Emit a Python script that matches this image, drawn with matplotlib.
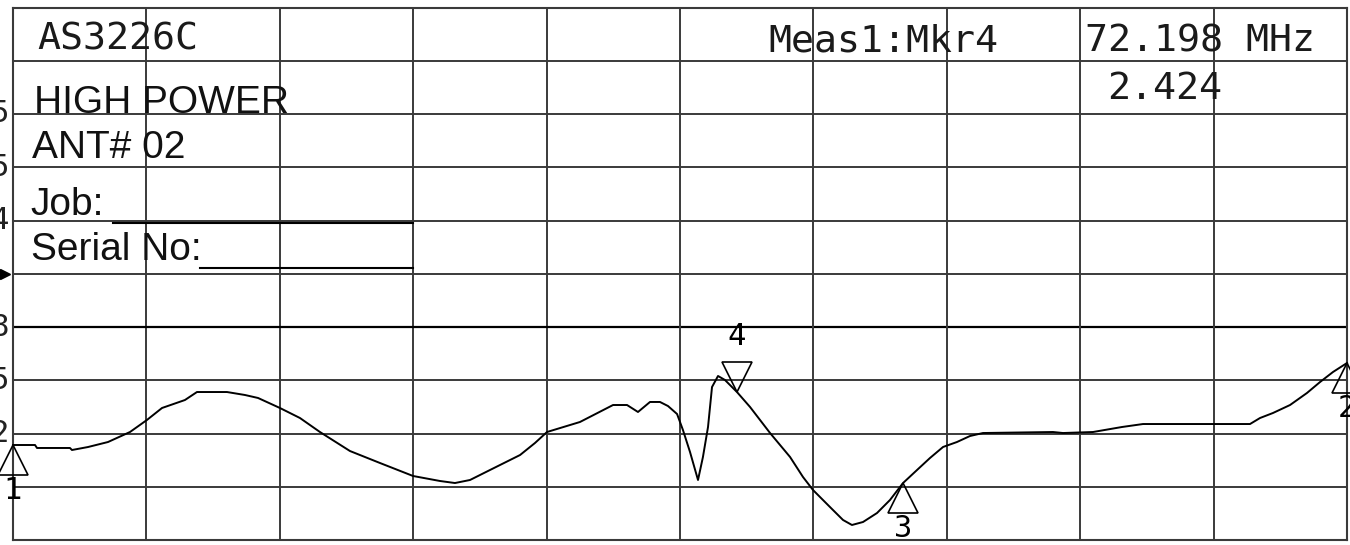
import numpy as np
import matplotlib
matplotlib.use("Agg")
import matplotlib.pyplot as plt
from matplotlib.lines import Line2D
from matplotlib.transforms import offset_copy

# trace, in screen divisions (10 x 10 graticule)
freq_div = [0.000, 0.165, 0.180, 0.427, 0.442, 0.562, 0.712, 0.877, 1.004, 1.117,
            1.289, 1.379, 1.604, 1.739, 1.837, 2.001, 2.151, 2.301, 2.526, 2.751,
            2.999, 3.201, 3.313, 3.426, 3.576, 3.801, 3.913, 4.003, 4.250, 4.498,
            4.603, 4.685, 4.775, 4.850, 4.910, 4.978, 5.022, 5.075, 5.135, 5.172,
            5.210, 5.240, 5.285, 5.337, 5.427, 5.525, 5.675, 5.825, 5.922, 5.997,
            6.124, 6.222, 6.289, 6.372, 6.477, 6.574, 6.672, 6.777, 6.874, 6.972,
            7.076, 7.174, 7.271, 7.796, 7.871, 8.096, 8.313, 8.471, 9.273, 9.348,
            9.445, 9.573, 9.700, 9.798, 9.895, 10.000]
vswr_div = [1.784, 1.784, 1.728, 1.728, 1.690, 1.746, 1.840, 2.028, 2.254, 2.479,
            2.629, 2.779, 2.779, 2.723, 2.667, 2.479, 2.291, 2.028, 1.671, 1.446,
            1.202, 1.108, 1.070, 1.127, 1.315, 1.596, 1.822, 2.028, 2.216, 2.535,
            2.535, 2.404, 2.592, 2.592, 2.516, 2.366, 2.066, 1.653, 1.127, 1.559,
            2.122, 2.873, 3.080, 3.005, 2.779, 2.498, 2.009, 1.559, 1.183, 0.939,
            0.620, 0.376, 0.282, 0.338, 0.507, 0.751, 1.070, 1.315, 1.540, 1.747,
            1.840, 1.953, 2.009, 2.028, 2.009, 2.028, 2.122, 2.178, 2.178, 2.291,
            2.385, 2.535, 2.761, 2.967, 3.155, 3.324]

# markers
mkr_names = ["1", "2", "3", "4"]
mkr_x = [0.000, 10.000, 6.672, 5.427]
mkr_y = [1.784, 3.324, 1.070, 2.779]
mkr_up = [True, True, True, False]

# cut-off scale labels on the left edge
scale_pos = [8, 7, 6, 4, 3, 2]
scale_txt = ["5", "5", "4", "8", "5", "2"]

W, H = 1350, 545
fig = plt.figure(figsize=(W / 100, H / 100), dpi=100)
ax = fig.add_axes([13 / W, 5 / H, 1334 / W, 532.5 / H])
ax.set_xlim(0, 10)
ax.set_ylim(0, 10)
ax.set_xticks([])
ax.set_yticks([])
for s in ax.spines.values():
    s.set_color('#3a3a3a')
    s.set_linewidth(1.5)

gcol = '#3a3a3a'
for i in range(1, 10):
    ax.axvline(i, color=gcol, lw=1.4, zorder=1)
    if i == 4:
        ax.axhline(i, color='black', lw=1.6, zorder=1)
    else:
        ax.axhline(i, color=gcol, lw=1.4, zorder=1)

ax.plot(freq_div, vswr_div, color='black', lw=1.4, zorder=3, clip_on=False)

# marker triangles, apex on the trace
ms = 22
for name, x, y, up in zip(mkr_names, mkr_x, mkr_y, mkr_up):
    shift = -ms / 2 if up else ms / 2
    tr = offset_copy(ax.transData, fig=fig, y=shift, units='points')
    ax.plot(x, y, marker='^' if up else 'v', ms=ms, mfc='none', mec='black',
            mew=1.2, clip_on=False, zorder=4, transform=tr)
    ax.annotate(name, (x, y), xytext=(0, -33 if up else 40), textcoords='offset points',
                ha='center', va='center', fontsize=22, family='DejaVu Sans Mono',
                annotation_clip=False)

# reference position arrow
ax.plot(-0.06, 5, marker='>', ms=7, color='black', clip_on=False)

def px(x, y):
    return x / W, 1 - y / H

for pos, t in zip(scale_pos, scale_txt):
    yy = 540 - pos * 53.25
    fig.text(*px(9, yy), t, ha='right', va='center', fontsize=22,
             family='DejaVu Sans Mono', color='#222222')

mono = dict(family='DejaVu Sans Mono', fontsize=27.5, va='baseline', color='#1a1a1a')
sans = dict(family='Liberation Sans', fontsize=28, va='baseline', color='#111111')

fig.text(*px(37, 50), "AS3226C", **mono)
fig.text(*px(768, 51), "Meas1:Mkr4", **mono)
fig.text(*px(1085, 51), "72.198 MHz", **mono)
fig.text(*px(1107, 99), "2.424", **mono)

fig.text(*px(34, 113), "HIGH POWER", **sans)
fig.text(*px(32, 158), "ANT# 02", **sans)
fig.text(*px(30, 215), "Job:", **sans)
fig.text(*px(31, 260), "Serial No:", **sans)

fig.add_artist(Line2D([113 / W, 413 / W], [1 - 223 / H, 1 - 223 / H], color='black', lw=1.5))
fig.add_artist(Line2D([200 / W, 413 / W], [1 - 268 / H, 1 - 268 / H], color='black', lw=1.5))

fig.savefig("out.png", dpi=100, facecolor='white')
